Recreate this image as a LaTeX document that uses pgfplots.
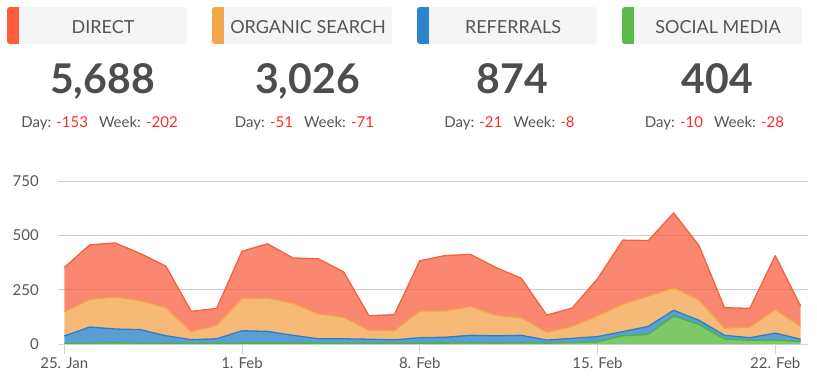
\documentclass[border=0pt]{standalone}
\usepackage{pgfplots}
\pgfplotsset{compat=1.18}
\usepgfplotslibrary{fillbetween}
\usepackage{pgfplotstable}
\usepackage{fontspec}
\setmainfont{Lato}

\definecolor{barR}{HTML}{FF5B3C}
\definecolor{barO}{HTML}{F3A54C}
\definecolor{barB}{HTML}{2D84CD}
\definecolor{barG}{HTML}{5CB94C}
\definecolor{fillR}{HTML}{F85F40}
\definecolor{fillO}{HTML}{F3A24B}
\definecolor{fillB}{HTML}{237EC6}
\definecolor{fillG}{HTML}{52B637}
\definecolor{lineR}{HTML}{F5603F}
\definecolor{lineO}{HTML}{F3A24B}
\definecolor{lineB}{HTML}{2B7FCB}
\definecolor{lineG}{HTML}{4CB43A}
\definecolor{boxgray}{HTML}{F5F5F5}
\definecolor{labgray}{HTML}{555555}
\definecolor{numgray}{HTML}{4D4D4D}
\definecolor{negred}{HTML}{FF2B2B}
\definecolor{gridgray}{HTML}{CCCCCC}
\definecolor{xaxis}{HTML}{CCD6EB}
\definecolor{tickgray}{HTML}{555555}

% cumulative (stacked) tops: social, +referrals, +organic, +direct
\pgfplotstableread{
day g b o d
0 3 37 148 352
1 4 78 205 456
2 5 69 217 465
3 4 66 199 416
4 3 38 167 358
5 3 20 57 150
6 3 24 86 164
7 4 61 210 427
8 4 58 211 461
9 4 40 188 396
10 4 24 139 392
11 4 24 123 332
12 3 22 63 130
13 3 19 61 135
14 4 29 152 383
15 4 31 152 407
16 5 40 173 412
17 4 38 132 352
18 5 40 121 302
19 4 18 54 133
20 6 26 81 165
21 10 34 130 300
22 38 57 184 478
23 44 81 220 476
24 129 155 259 603
25 89 109 202 452
26 23 40 73 167
27 17 29 78 164
28 18 50 158 406
29 11 22 81 175
}\data

\newcommand\header[6]{%
  \fill[boxgray, rounded corners=3pt] (#1,-7) rectangle ++(180,-37);
  \begin{scope}
    \clip[rounded corners=3pt] (#1,-7) rectangle ++(180,-37);
    \fill[#2] (#1,-7) rectangle ++(12,-37);
  \end{scope}
  \node[anchor=base, inner sep=0, font=\fontsize{18}{20}\selectfont, text=labgray] at (#1+96,-34) {#3};
  \node[anchor=base, inner sep=0, font=\fontsize{41}{44}\selectfont\bfseries, text=numgray] at (#1+95.5,-93.3) {#4};
  \node[anchor=base, inner sep=0, font=\fontsize{15}{17}\selectfont] at (#1+92.5,-128) {\textcolor{labgray}{Day:} \textcolor{negred}{#5}\hspace{11pt}\textcolor{labgray}{Week:} \textcolor{negred}{#6}};
}

\begin{document}
\begin{tikzpicture}
\begin{scope}[x=1pt,y=1pt,shift={(0pt,344pt)}]
  \header{7}{barR}{DIRECT}{5,688}{-153}{-202}
  \header{212}{barO}{ORGANIC SEARCH}{3,026}{-51}{-71}
  \header{417}{barB}{REFERRALS}{874}{-21}{-8}
  \header{622}{barG}{SOCIAL MEDIA}{404}{-10}{-28}
\end{scope}

\begin{axis}[
  at={(58pt,0pt)}, anchor=south west,
  scale only axis, width=750pt, height=163pt,
  xmin=-0.248, xmax=29.29, ymin=0, ymax=750,
  axis x line*=bottom, axis y line*=left,
  x axis line style={draw=xaxis, line width=1pt, -},
  y axis line style={draw=none},
  ytick={0,250,500,750},
  xtick={0,7,14,21,28},
  xticklabels={25. Jan,1. Feb,8. Feb,15. Feb,22. Feb},
  ymajorgrids, grid style={draw=gridgray, line width=1pt},
  ytick style={draw=none},
  xtick style={draw=xaxis, line width=1pt},
  tick align=outside, major tick length=10pt,
  ticklabel style={font=\fontsize{15}{17}\selectfont, text=tickgray, inner sep=0pt},
  yticklabel style={anchor=east, xshift=-9pt},
  xticklabel style={anchor=north, yshift=-3pt},
  /pgf/number format/assume math mode=true,
  clip=false,
]
  \addplot[draw=none, name path=Z] coordinates {(0,0) (29,0)};
  \addplot[draw=none, name path=G] table[x=day, y=g] {\data};
  \addplot[draw=none, name path=B] table[x=day, y=b] {\data};
  \addplot[draw=none, name path=O] table[x=day, y=o] {\data};
  \addplot[draw=none, name path=D] table[x=day, y=d] {\data};
  \addplot[fillG, fill opacity=0.75] fill between[of=G and Z];
  \addplot[fillB, fill opacity=0.75] fill between[of=B and G];
  \addplot[fillO, fill opacity=0.75] fill between[of=O and B];
  \addplot[fillR, fill opacity=0.75] fill between[of=D and O];
  \addplot[lineG, line width=1.3pt, line join=round] table[x=day, y=g] {\data};
  \addplot[lineB, line width=1.3pt, line join=round] table[x=day, y=b] {\data};
  \addplot[lineO, line width=1.3pt, line join=round] table[x=day, y=o] {\data};
  \addplot[lineR, line width=1.3pt, line join=round] table[x=day, y=d] {\data};
\end{axis}
\pgfresetboundingbox
\useasboundingbox (0pt,-42pt) rectangle (817pt,344pt);
\end{tikzpicture}
\end{document}
